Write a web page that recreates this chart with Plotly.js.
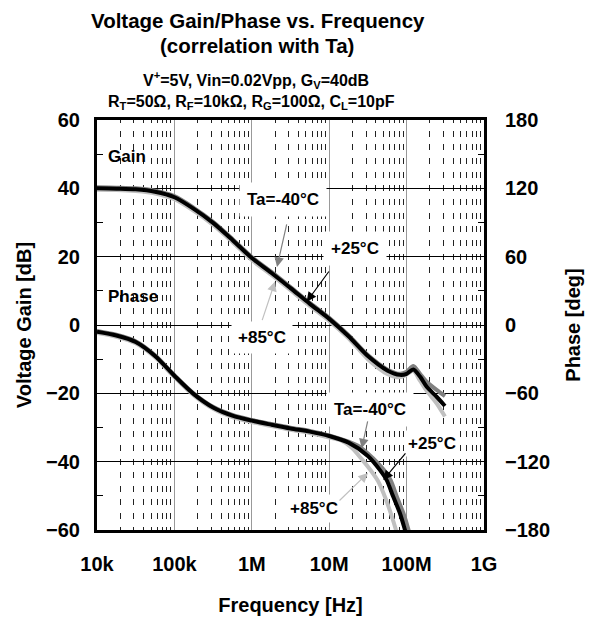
<!DOCTYPE html>
<html><head><meta charset="utf-8">
<script src="https://cdn.plot.ly/plotly-3.0.1.min.js"></script>
<style>html,body{margin:0;padding:0;background:#fff}#chart{width:596px;height:620px}</style>
</head><body><div id="chart"></div>
<script>
// ---- data ----
const freqGain = [1e4, 1.78e4, 3.16e4, 5.62e4, 1e5, 1.78e5, 3.16e5, 5.62e5, 1e6, 1.78e6, 3.16e6, 5.62e6, 1e7, 1.78e7, 3.16e7, 5.62e7, 8.2e7, 1.0e8, 1.22e8, 1.49e8, 1.82e8, 2.44e8, 3.13e8];
const gainM40 = [40.3, 40.2, 40.0, 39.3, 37.7, 34.3, 30.2, 25.2, 19.9, 15.6, 11.1, 6.5, 2.1, -3.0, -8.8, -13.0, -14.3, -13.7, -12.0, -14.3, -16.6, -19.0, -20.8];
const gain25  = [40.0, 39.9, 39.7, 39.0, 37.4, 34.0, 29.9, 24.9, 19.6, 15.3, 10.8, 6.2, 1.8, -3.3, -9.1, -13.3, -14.6, -14.3, -13.0, -15.1, -18.1, -21.0, -23.7];
const gain85  = [39.6, 39.5, 39.2, 38.5, 36.8, 33.4, 29.3, 24.3, 19.0, 14.7, 10.2, 5.6, 1.2, -3.9, -10.0, -14.3, -15.3, -14.5, -13.4, -16.3, -19.3, -22.9, -26.8];

const freqPhase25 = [1e4, 1.78e4, 3.16e4, 5.62e4, 1e5, 1.78e5, 3.16e5, 5.62e5, 1e6, 1.78e6, 3.16e6, 5.62e6, 1e7, 1.78e7, 3.16e7, 4.53e7, 5.53e7, 6.73e7, 8.22e7, 9.53e7, 1.1e8];
const phase25 = [-5.9, -9.2, -14.9, -27.2, -44.6, -60.7, -72.4, -79.6, -84.0, -87.5, -90.8, -93.6, -97.5, -103.3, -115, -127.4, -136.2, -150.9, -165.5, -180, -195];
const freqPhaseM40 = [1e4, 1.78e4, 3.16e4, 5.62e4, 1e5, 1.78e5, 3.16e5, 5.62e5, 1e6, 1.78e6, 3.16e6, 5.62e6, 1e7, 1.78e7, 2.36e7, 3.68e7, 5.1e7, 6.2e7, 7.51e7, 9.12e7, 1.06e8, 1.2e8];
const phaseM40 = [-5.3, -8.6, -14.3, -26.6, -44.0, -60.1, -71.8, -79.0, -83.4, -86.9, -90.2, -93.0, -96.9, -102.5, -106, -117, -127.4, -136, -151, -165.5, -180, -195];
const freqPhase85 = [1e4, 1.78e4, 3.16e4, 5.62e4, 1e5, 1.78e5, 3.16e5, 5.62e5, 1e6, 1.78e6, 3.16e6, 5.62e6, 1e7, 1.38e7, 1.97e7, 2.65e7, 3.47e7, 4.27e7, 5.26e7, 6.29e7, 7.29e7, 8.3e7];
const phase85 = [-7.1, -10.4, -16.1, -28.4, -45.8, -61.9, -73.6, -80.8, -85.2, -88.7, -92.0, -94.8, -98.8, -101, -108, -118, -128, -137, -151, -166, -180, -195];

const xTickVals = [1e4, 1e5, 1e6, 1e7, 1e8, 1e9];
const xTickText = ['10k', '100k', '1M', '10M', '100M', '1G'];

// ---- styling ----
const FONT = 'Arial, "Liberation Sans", sans-serif';
const C25 = '#000000', CM40 = '#808080', C85 = '#c0c0c0';
const lw = 4;

function tr(x, y, color, axis) {
  return {x: x, y: y, type: 'scatter', mode: 'lines', yaxis: axis, showlegend: false, hoverinfo: 'skip',
          line: {color: color, width: lw, shape: 'spline', smoothing: 0.8}};
}
const data = [
  tr(freqGain, gain85, C85, 'y'), tr(freqGain, gainM40, CM40, 'y'), tr(freqGain, gain25, C25, 'y'),
  tr(freqPhase85, phase85, C85, 'y2'), tr(freqPhaseM40, phaseM40, CM40, 'y2'), tr(freqPhase25, phase25, C25, 'y2')
];

function label(text, lx, ly, opts) {
  return Object.assign({text: text, x: lx, y: ly, xref: 'x', yref: 'y', showarrow: false,
    font: {family: FONT, size: 17, color: '#000', weight: 700}, bgcolor: '#ffffff', borderpad: 4}, opts || {});
}
function arrow(color, tipX, tipY, tailX, tailY) {
  return {text: '', x: tipX, y: tipY, ax: tailX, ay: tailY, xref: 'x', yref: 'y', axref: 'x', ayref: 'y',
    showarrow: true, arrowhead: 2, arrowsize: 1.6, arrowwidth: 1.2, arrowcolor: color, standoff: 0, startstandoff: 0};
}
function ptext(text, px, py, size) {
  return {text: text, xref: 'paper', yref: 'paper', x: px, y: py, xanchor: 'center', yanchor: 'middle',
    showarrow: false, font: {family: FONT, size: size, color: '#000', weight: 700}};
}

const annotations = [
  label('Gain', 4.078, 49.2, {xanchor: 'left', bgcolor: 'rgba(0,0,0,0)'}),
  label('Phase', 4.078, 8.2, {xanchor: 'left', bgcolor: 'rgba(0,0,0,0)'}),
  label('Ta=-40°C', 6.403, 36.6, {borderpad: 7}),
  label('+25°C', 7.333, 22.3, {borderpad: 7}),
  label('+85°C', 6.132, -3.8, {borderpad: 6}),
  label('Ta=-40°C', 7.527, -24.6, {borderpad: 7}),
  label('+25°C', 8.328, -34.6, {borderpad: 3}),
  label('+85°C', 6.804, -53.6, {borderpad: 4}),
  arrow(CM40, 6.326, 17.0, 6.455, 29.9),
  arrow(C25, 6.709, 6.8, 7.010, 16.1),
  arrow(C85, 6.300, 12.7, 6.128, 1.0),
  arrow(CM40, 7.420, -36.1, 7.501, -27.8),
  arrow(C25, 7.699, -45.4, 8.001, -37.1),
  arrow(C85, 7.501, -43.3, 7.114, -51.8),
  ptext('Voltage Gain/Phase vs. Frequency', 0.415, 1.2439, 20.5),
  ptext('(correlation with Ta)', 0.413, 1.1805, 20.5),
  ptext('V<sup>+</sup>=5V, Vin=0.02Vpp, G<sub>V</sub>=40dB', 0.411, 1.0976, 16),
  ptext('R<sub>T</sub>=50Ω, R<sub>F</sub>=10kΩ, R<sub>G</sub>=100Ω, C<sub>L</sub>=10pF', 0.40, 1.0415, 16)
];

const axFont = {family: FONT, size: 20, color: '#000', weight: 700};
const layout = {
  width: 596, height: 620,
  margin: {l: 97, r: 112, t: 120, b: 90},
  paper_bgcolor: '#fff', plot_bgcolor: '#fff',
  showlegend: false,
  xaxis: {type: 'log', range: [4, 9], tickvals: xTickVals, ticktext: xTickText, tickfont: axFont,
          showline: true, linecolor: '#000', linewidth: 3, mirror: true, ticks: '', ticklabelstandoff: 14,
          showgrid: true, gridcolor: '#999', gridwidth: 1, zeroline: false,
          minor: {dtick: 'D1', showgrid: true, gridcolor: '#222', gridwidth: 1, griddash: '3px,7.66px,3px,0px', ticks: ''},
          title: {text: 'Frequency [Hz]', font: {family: FONT, size: 20, color: '#000', weight: 700}, standoff: 24}},
  yaxis: {range: [-60, 60], dtick: 20, tickfont: axFont, showline: true, linecolor: '#000', linewidth: 3, mirror: true,
          ticks: 'inside', ticklen: 6, tickcolor: '#000', ticklabelstandoff: 10,
          showgrid: true, gridcolor: '#000', gridwidth: 1, zeroline: false,
          minor: {dtick: 10, ticks: 'inside', ticklen: 6, tickcolor: '#000', showgrid: false},
          title: {text: 'Voltage Gain [dB]', font: {family: FONT, size: 20, color: '#000', weight: 700}, standoff: 10}},
  yaxis2: {overlaying: 'y', side: 'right', range: [-180, 180], dtick: 60, tickfont: axFont, showgrid: false, zeroline: false,
          ticks: 'inside', ticklen: 6, tickcolor: '#000', ticklabelstandoff: 20,
          minor: {dtick: 30, ticks: 'inside', ticklen: 6, tickcolor: '#000', showgrid: false},
          title: {text: 'Phase [deg]', font: {family: FONT, size: 20, color: '#000', weight: 700}, standoff: 16}},
  annotations: annotations
};

Plotly.newPlot('chart', data, layout, {staticPlot: true, displayModeBar: false});
</script>
</body></html>
